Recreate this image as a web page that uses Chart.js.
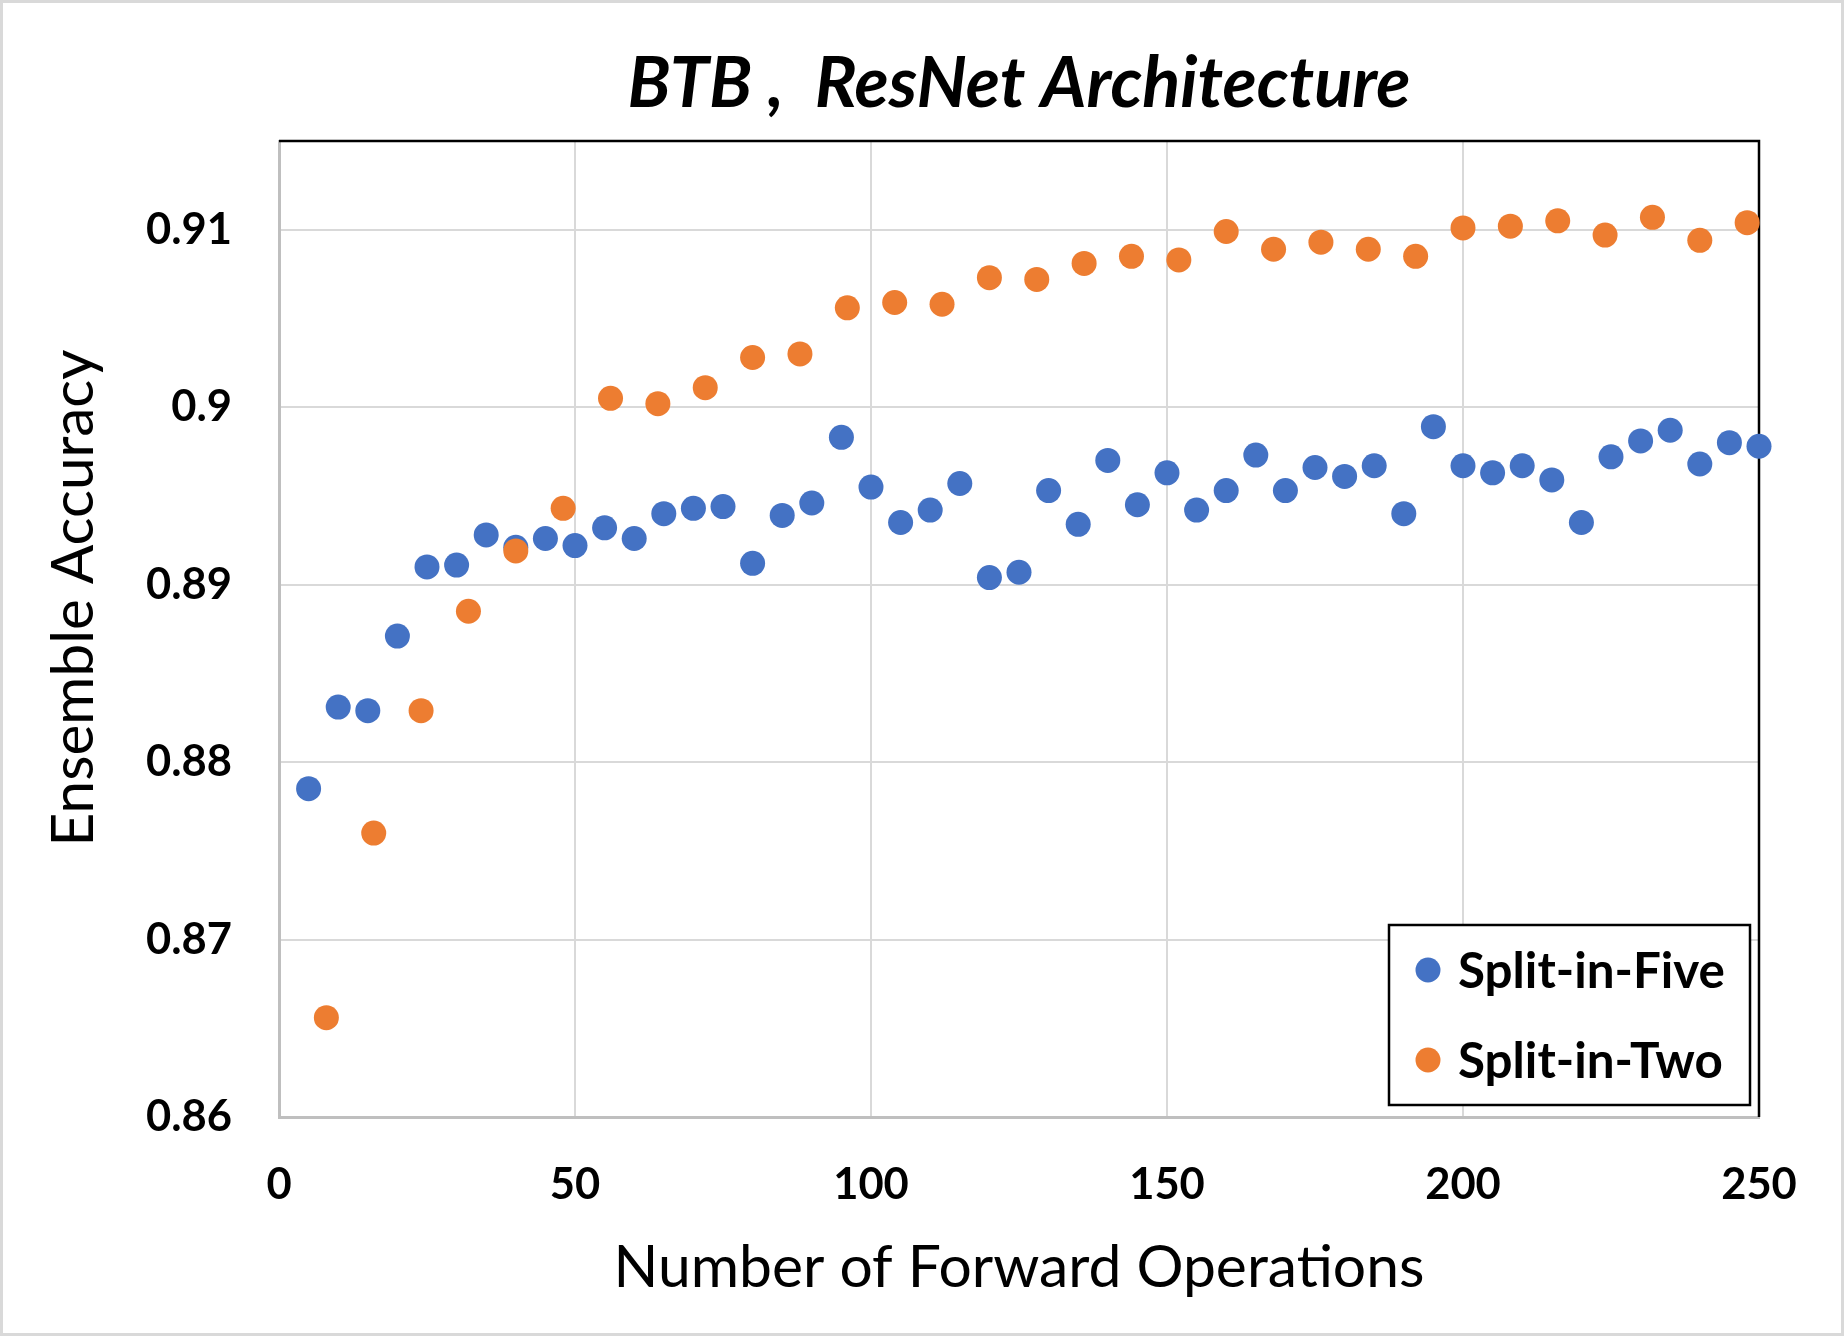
<!DOCTYPE html>
<html><head><meta charset="utf-8">
<script src="https://cdn.jsdelivr.net/npm/chart.js@4.4.1/dist/chart.umd.min.js"></script>
<style>html,body{margin:0;padding:0;background:#fff}canvas{display:block}</style>
</head><body>
<canvas id="c" width="1844" height="1336"></canvas>
<script>
// ---- data ----
const fiveX = [5,10,15,20,25,30,35,40,45,50,55,60,65,70,75,80,85,90,95,100,105,110,115,120,125,130,135,140,145,150,155,160,165,170,175,180,185,190,195,200,205,210,215,220,225,230,235,240,245,250];
const fiveY = [0.8785,0.8831,0.8829,0.8871,0.8910,0.8911,0.8928,0.8921,0.8926,0.8922,0.8932,0.8926,0.8940,0.8943,0.8944,0.8912,0.8939,0.8946,0.8983,0.8955,0.8935,0.8942,0.8957,0.8904,0.8907,0.8953,0.8934,0.8970,0.8945,0.8963,0.8942,0.8953,0.8973,0.8953,0.8966,0.8961,0.8967,0.8940,0.8989,0.8967,0.8963,0.8967,0.8959,0.8935,0.8972,0.8981,0.8987,0.8968,0.8980,0.8978];
const twoX = [8,16,24,32,40,48,56,64,72,80,88,96,104,112,120,128,136,144,152,160,168,176,184,192,200,208,216,224,232,240,248];
const twoY = [0.8656,0.8760,0.8829,0.8885,0.8919,0.8943,0.9005,0.9002,0.9011,0.9028,0.9030,0.9056,0.9059,0.9058,0.9073,0.9072,0.9081,0.9085,0.9083,0.9099,0.9089,0.9093,0.9089,0.9085,0.9101,0.9102,0.9105,0.9097,0.9107,0.9094,0.9104];
const seriesNames = ['Split-in-Five','Split-in-Two'];
const xTickValues = [0,50,100,150,200,250];
const yTickValues = [0.86,0.87,0.88,0.89,0.9,0.91];
const titleText = 'BTB ,  ResNet Architecture';
const xTitleText = 'Number of Forward Operations';
const yTitleText = 'Ensemble Accuracy';

// ---- styles ----
const FAMILY = 'Lato';
const BLUE = '#4472C4', ORANGE = '#ED7D31';
function fitFont(text, weight, style, target) {
  const c = document.createElement('canvas').getContext('2d');
  c.font = `${style} ${weight} 100px ${FAMILY}`;
  return 100 * target / c.measureText(text).width;
}
const titleSize = fitFont(titleText, 'bold', 'italic', 783);
const tickSize = (fitFont('250', 'bold', 'normal', 74) + fitFont('0.91', 'bold', 'normal', 88)) / 2;
const legendSize = fitFont('Split-in-Five', 'bold', 'normal', 267);
const xTitleSize = fitFont(xTitleText, 'normal', 'normal', 811);
const yTitleSize = fitFont(yTitleText, 'normal', 'normal', 497);

const PLOT = {left: 279, right: 1759, top: 141, bottom: 1117};
const W = 1844, H = 1336;

const frame = {
  id: 'frame',
  beforeDraw(chart) {
    const ctx = chart.ctx;
    ctx.save();
    ctx.fillStyle = '#fff';
    ctx.fillRect(0, 0, W, H);
    ctx.strokeStyle = '#d9d9d9';
    ctx.lineWidth = 3;
    ctx.strokeRect(1.5, 1.5, W - 3, H - 3);
    ctx.restore();
  },
  beforeDatasetsDraw(chart) {
    const {ctx, chartArea: a} = chart;
    ctx.save();
    ctx.strokeStyle = '#000';
    ctx.lineWidth = 2.5;
    ctx.beginPath();
    ctx.moveTo(a.left, a.top);
    ctx.lineTo(a.right, a.top);
    ctx.lineTo(a.right, a.bottom);
    ctx.stroke();
    ctx.restore();
  },
  afterDraw(chart) {
    const ctx = chart.ctx;
    ctx.save();
    // y axis title
    ctx.translate(74, 598);
    ctx.rotate(-Math.PI / 2);
    ctx.fillStyle = '#000';
    ctx.font = `normal normal ${yTitleSize}px ${FAMILY}`;
    ctx.textAlign = 'center';
    ctx.textBaseline = 'middle';
    ctx.fillText(yTitleText, 0, 0);
    ctx.restore();
    // legend
    ctx.save();
    const box = {x: 1389, y: 925, w: 361, h: 180};
    ctx.fillStyle = '#fff';
    ctx.fillRect(box.x, box.y, box.w, box.h);
    ctx.strokeStyle = '#000';
    ctx.lineWidth = 2.5;
    ctx.strokeRect(box.x, box.y, box.w, box.h);
    const rows = [970, 1060];
    chart.data.datasets.forEach((ds, i) => {
      ctx.fillStyle = ds.backgroundColor;
      ctx.beginPath();
      ctx.arc(1428, rows[i], 12.5, 0, Math.PI * 2);
      ctx.fill();
      ctx.fillStyle = '#000';
      ctx.font = `normal bold ${legendSize}px ${FAMILY}`;
      ctx.textAlign = 'left';
      ctx.textBaseline = 'middle';
      ctx.fillText(ds.label, 1458, rows[i] + 2);
    });
    ctx.restore();
  }
};

const toPts = (xs, ys) => xs.map((x, i) => ({x, y: ys[i]}));

new Chart(document.getElementById('c'), {
  type: 'scatter',
  data: {
    datasets: [
      {label: seriesNames[0], data: toPts(fiveX, fiveY), backgroundColor: BLUE, borderWidth: 0, pointRadius: 12.5, order: 1, clip: false},
      {label: seriesNames[1], data: toPts(twoX, twoY), backgroundColor: ORANGE, borderWidth: 0, pointRadius: 12.5, order: 0, clip: false}
    ]
  },
  options: {
    responsive: false,
    animation: false,
    devicePixelRatio: 1,
    layout: {padding: {left: 0, right: W - PLOT.right, top: 0, bottom: 0}},
    plugins: {
      legend: {display: false},
      tooltip: {enabled: false},
      title: {
        display: true,
        text: titleText,
        fullSize: false,
        color: '#000',
        font: {family: FAMILY, size: titleSize, weight: 'bold', style: 'italic', lineHeight: 1.2},
        padding: {top: 84 - 0.6 * titleSize, bottom: PLOT.top - 84 - 0.6 * titleSize}
      }
    },
    scales: {
      x: {
        type: 'linear',
        min: xTickValues[0],
        max: xTickValues[xTickValues.length - 1],
        afterBuildTicks(s) { s.ticks = xTickValues.map(v => ({value: v})); },
        afterFit(s) { s.height = H - PLOT.bottom; s.paddingRight = 0; s.paddingLeft = 0; },
        grid: {color: '#d9d9d9', lineWidth: 2, drawTicks: false},
        border: {color: '#bfbfbf', width: 3},
        ticks: {
          color: '#000', padding: 42,
          font: {family: FAMILY, size: tickSize, weight: 'bold', lineHeight: 1.2},
          callback: v => String(v)
        },
        title: {
          display: true, text: xTitleText, color: '#000',
          font: {family: FAMILY, size: xTitleSize, weight: 'normal', lineHeight: 1.2},
          padding: {top: 0, bottom: H - 1268 - 0.6 * xTitleSize}
        }
      },
      y: {
        type: 'linear',
        min: 0.86,
        max: 0.915,
        afterBuildTicks(s) { s.ticks = yTickValues.map(v => ({value: v})); },
        afterFit(s) { s.width = PLOT.left; s.paddingTop = 0; s.paddingBottom = 0; },
        grid: {color: '#d9d9d9', lineWidth: 2, drawTicks: false},
        border: {color: '#bfbfbf', width: 3},
        ticks: {
          color: '#000', padding: 47,
          font: {family: FAMILY, size: tickSize, weight: 'bold', lineHeight: 1.2},
          callback: v => String(Math.round(v * 100) / 100)
        }
      }
    }
  },
  plugins: [frame]
});
</script>
</body></html>
